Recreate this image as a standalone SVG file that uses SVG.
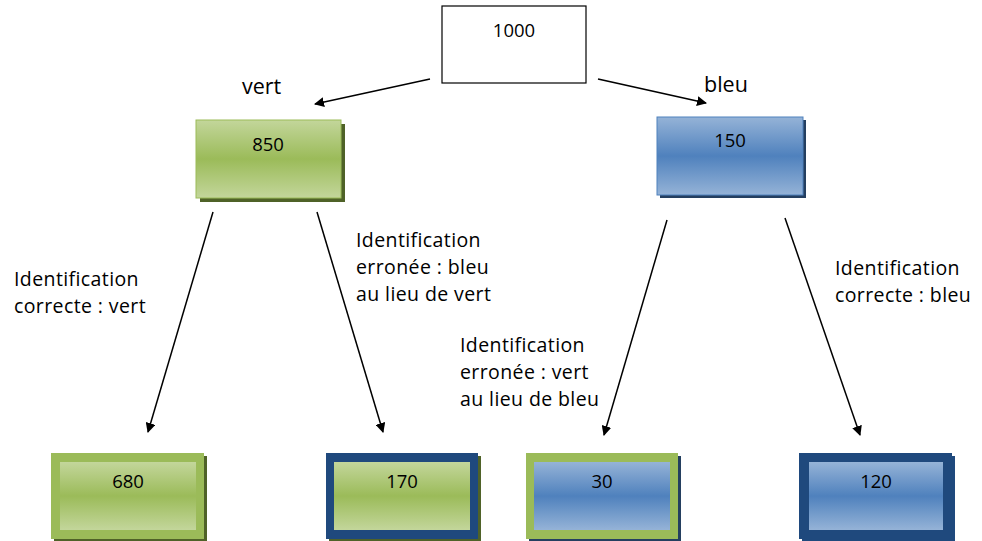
<svg xmlns="http://www.w3.org/2000/svg" width="982" height="541" viewBox="0 0 982 541">
<defs>
<linearGradient id="gG" x1="0" y1="0" x2="0" y2="1">
<stop offset="0" stop-color="#C3D69B"/><stop offset="0.5" stop-color="#9BBB59"/><stop offset="1" stop-color="#C3D69B"/>
</linearGradient>
<linearGradient id="gB" x1="0" y1="0" x2="0" y2="1">
<stop offset="0" stop-color="#95B3D7"/><stop offset="0.5" stop-color="#4F81BD"/><stop offset="1" stop-color="#95B3D7"/>
</linearGradient>
<marker id="ah" viewBox="0 0 10 10" refX="9" refY="5" markerWidth="10" markerHeight="10" markerUnits="userSpaceOnUse" orient="auto">
<path d="M0,0 L10,5 L0,10 z" fill="#000"/>
</marker>
</defs>
<style>
text{font-family:"Open Sans","Liberation Sans",sans-serif;fill:#000}
.n{font-size:18.5px;text-anchor:middle}
.l{font-size:19.5px;letter-spacing:0.4px}
.c{stroke:#000;stroke-width:1.5;fill:none;marker-end:url(#ah)}
</style>
<rect width="982" height="541" fill="#fff"/>
<g id="connectors">
<line class="c" x1="430" y1="79" x2="315" y2="104"/>
<line class="c" x1="598" y1="79" x2="706" y2="103"/>
<line class="c" x1="213" y1="212" x2="148" y2="432"/>
<line class="c" x1="317" y1="212" x2="383" y2="432"/>
<line class="c" x1="667" y1="220" x2="604" y2="435"/>
<line class="c" x1="785" y1="218" x2="860" y2="435"/>
</g>
<g id="n1000">
<rect x="442" y="6" width="144" height="77" fill="#fff" stroke="#000" stroke-width="1.2"/>
<text class="n" x="514" y="37">1000</text>
</g>
<g id="n850">
<rect x="200" y="124" width="145" height="78" fill="#4F6228"/>
<rect x="196" y="120" width="145" height="78" fill="url(#gG)" stroke="#9BBB59" stroke-width="1"/>
<text class="n" x="268" y="151">850</text>
</g>
<g id="n150">
<rect x="660" y="120" width="146" height="78" fill="#243F60"/>
<rect x="657" y="117" width="146" height="78" fill="url(#gB)" stroke="#4F81BD" stroke-width="1"/>
<text class="n" x="730" y="147">150</text>
</g>
<g id="n680">
<rect x="54" y="456" width="153" height="86" fill="#4F6228"/>
<rect x="51" y="453" width="153" height="86" fill="#9BBB59"/>
<rect x="60" y="462" width="136" height="68" fill="url(#gG)"/>
<text class="n" x="128" y="488">680</text>
</g>
<g id="n170">
<rect x="329" y="456" width="152" height="86" fill="#4F6228"/>
<rect x="326" y="453" width="152" height="86" fill="#1F497D"/>
<rect x="334" y="462" width="136" height="68" fill="url(#gG)"/>
<text class="n" x="402" y="488">170</text>
</g>
<g id="n30">
<rect x="529" y="456" width="152" height="86" fill="#243F60"/>
<rect x="526" y="453" width="152" height="86" fill="#9BBB59"/>
<rect x="534" y="462" width="136" height="68" fill="url(#gB)"/>
<text class="n" x="602" y="488">30</text>
</g>
<g id="n120">
<rect x="802" y="456" width="153" height="86" fill="#1F497D"/>
<rect x="799" y="453" width="153" height="86" fill="#1F497D"/>
<rect x="809" y="462" width="134" height="68" fill="url(#gB)"/>
<text class="n" x="876" y="488">120</text>
</g>
<g id="labels">
<text x="242" y="94" style="font-size:21.5px">vert</text>
<text x="704" y="92" style="font-size:21.5px">bleu</text>
<text class="l" x="14" y="286">Identification</text>
<text class="l" x="14" y="313">correcte : vert</text>
<text class="l" x="356" y="247">Identification</text>
<text class="l" x="356" y="274">erronée : bleu</text>
<text class="l" x="356" y="301">au lieu de vert</text>
<text class="l" x="460" y="352">Identification</text>
<text class="l" x="460" y="379">erronée : vert</text>
<text class="l" x="460" y="406">au lieu de bleu</text>
<text class="l" x="835" y="275">Identification</text>
<text class="l" x="835" y="302">correcte : bleu</text>
</g>
</svg>
